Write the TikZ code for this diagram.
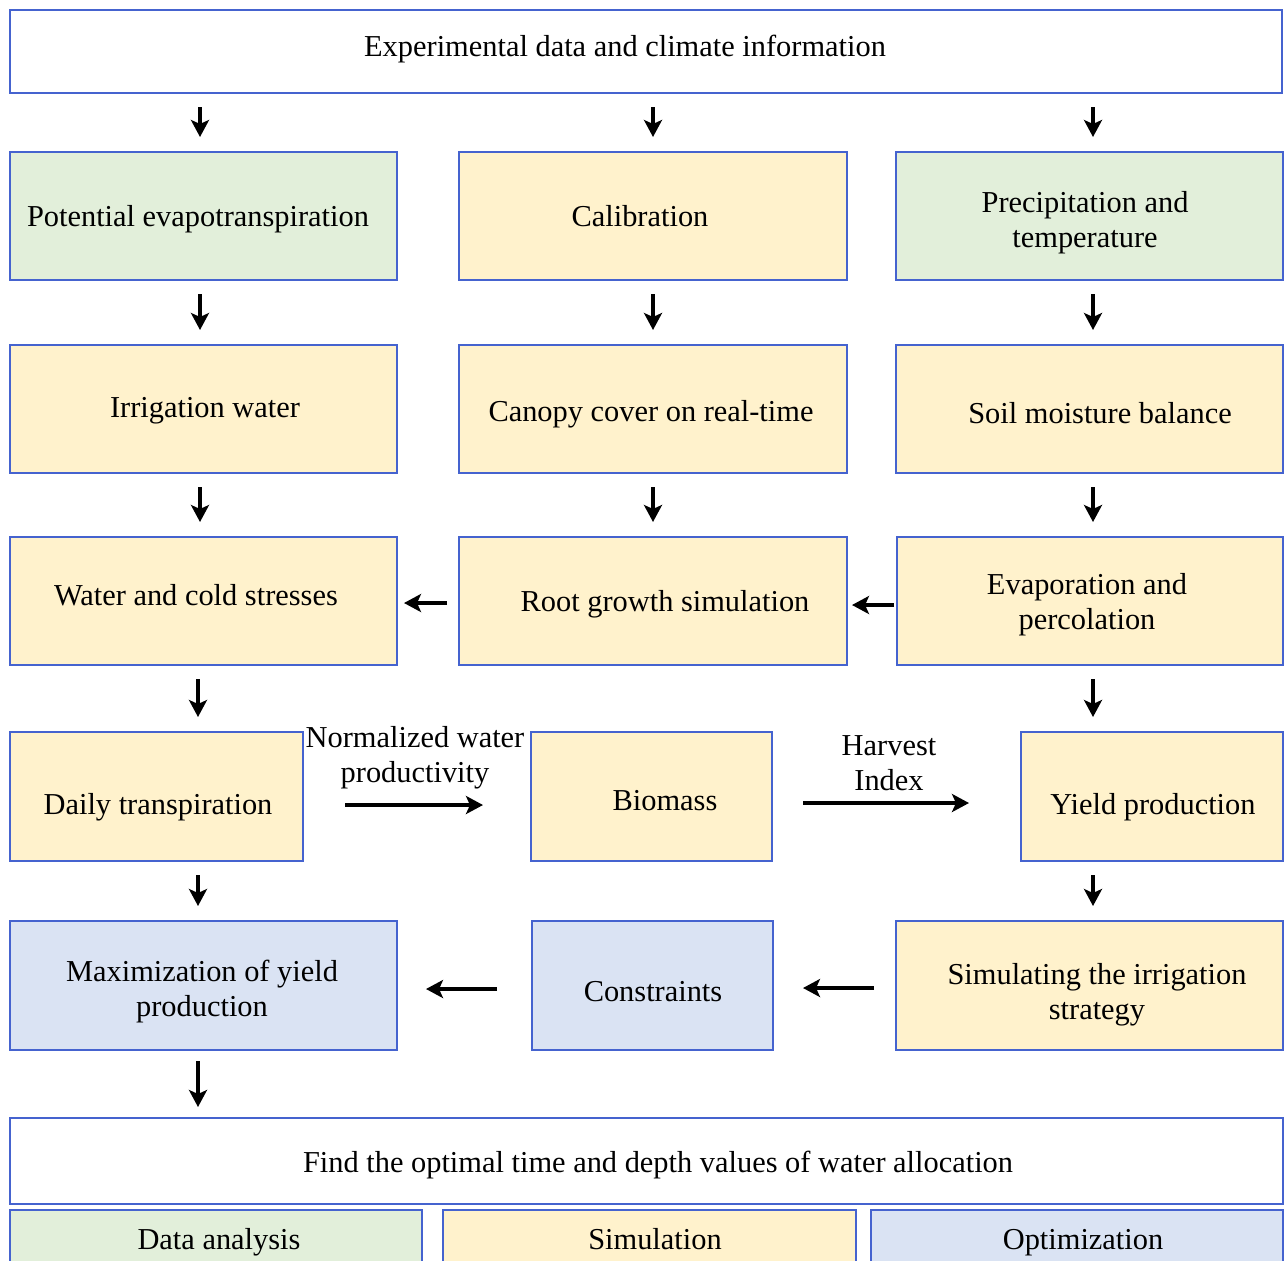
\documentclass[tikz,border=0pt]{standalone}
\usepackage{fontspec}
\setmainfont{Liberation Serif}
\usetikzlibrary{arrows.meta}
\definecolor{bgreen}{HTML}{E2EFDA}
\definecolor{byellow}{HTML}{FFF2CC}
\definecolor{bblue}{HTML}{DAE3F3}
\definecolor{bline}{HTML}{4563CF}
\tikzset{
  box/.style={draw=bline, line width=1pt, rectangle, inner sep=0pt},
  gbox/.style={box, fill=bgreen},
  ybox/.style={box, fill=byellow},
  bbox/.style={box, fill=bblue},
  wbox/.style={box, fill=white},
  lbl/.style={align=center, inner sep=0pt, font=\fontsize{15.2}{17.5}\selectfont},
  arr/.style={-{Stealth[length=8.5pt,width=9pt,inset=2pt]}, line width=2pt, black},
  arrv/.style={arr, line width=2.4pt, shorten <=6.5pt, shorten >=7pt},
}
% style, name, x1, y1, x2, y2, text, text-centre x, text-centre y (px)
\newcommand\bx[9]{%
  \node[#1, minimum width={(#5-#3)*0.5pt}, minimum height={(#6-#4)*0.5pt},
    label={[lbl, xshift={(#8-(#3+#5)/2)*0.5pt}, yshift={-(#9-(#4+#6)/2)*0.5pt}]center:{\strut#7\strut}}]
    (#2) at ({(#3+#5)/2},{(#4+#6)/2}) {};}
\begin{document}
\begin{tikzpicture}[x=0.5pt,y=-0.5pt]
\fill[white] (0,0) rectangle (1284,1260);
\clip (0,0) rectangle (1284,1260);
\coordinate (c1) at (200,0);
\coordinate (c1b) at (198,0);
\coordinate (c2) at (653,0);
\coordinate (c3) at (1093,0);
% boxes
\bx{wbox}{top}{10}{10}{1282}{93}{Experimental data and climate information}{625}{49}
\bx{gbox}{pe}{10}{152}{397}{280}{Potential evapotranspiration}{198}{219}
\bx{ybox}{cal}{459}{152}{847}{280}{Calibration}{640}{219}
\bx{gbox}{pt}{896}{152}{1283}{280}{Precipitation and\\temperature}{1085}{223}
\bx{ybox}{iw}{10}{345}{397}{473}{Irrigation water}{205}{410}
\bx{ybox}{cc}{459}{345}{847}{473}{Canopy cover on real-time}{651}{414}
\bx{ybox}{sm}{896}{345}{1283}{473}{Soil moisture balance}{1100}{416}
\bx{ybox}{wc}{10}{537}{397}{665}{Water and cold stresses}{196}{598}
\bx{ybox}{rg}{459}{537}{847}{665}{Root growth simulation}{665}{604}
\bx{ybox}{ep}{897}{537}{1283}{665}{Evaporation and\\percolation}{1087}{605}
\bx{ybox}{dt}{10}{732}{303}{861}{Daily transpiration}{158}{807}
\bx{ybox}{bm}{531}{732}{772}{861}{Biomass}{665}{803}
\bx{ybox}{yp}{1021}{732}{1283}{861}{Yield production}{1153}{807}
\bx{bbox}{mx}{10}{921}{397}{1050}{Maximization of yield\\production}{202}{992}
\bx{bbox}{cn}{532}{921}{773}{1050}{Constraints}{653}{994}
\bx{ybox}{si}{896}{921}{1283}{1050}{Simulating the irrigation\\strategy}{1097}{995}
\bx{wbox}{fo}{10}{1118}{1283}{1204}{Find the optimal time and depth values of water allocation}{658}{1165}
\bx{gbox}{la}{10}{1210}{422}{1272}{Data analysis}{219}{1242}
\bx{ybox}{lb}{443}{1210}{856}{1272}{Simulation}{655}{1242}
\bx{bbox}{lc}{871}{1210}{1283}{1272}{Optimization}{1083}{1242}
% labels
\node[lbl] (nwp) at (415,758) {Normalized water\\productivity};
\node[lbl] (hi) at (889,763) {Harvest\\Index};
% vertical arrows
\draw[arrv] (top.south -| c1) -- (pe.north -| c1);
\draw[arrv] (top.south -| c2) -- (cal.north -| c2);
\draw[arrv] (top.south -| c3) -- (pt.north -| c3);
\draw[arrv] (pe.south -| c1) -- (iw.north -| c1);
\draw[arrv] (cal.south -| c2) -- (cc.north -| c2);
\draw[arrv] (pt.south -| c3) -- (sm.north -| c3);
\draw[arrv] (iw.south -| c1) -- (wc.north -| c1);
\draw[arrv] (cc.south -| c2) -- (rg.north -| c2);
\draw[arrv] (sm.south -| c3) -- (ep.north -| c3);
\draw[arrv] (wc.south -| c1b) -- (dt.north -| c1b);
\draw[arrv] (ep.south -| c3) -- (yp.north -| c3);
\draw[arrv] (dt.south -| c1b) -- (mx.north -| c1b);
\draw[arrv] (yp.south -| c3) -- (si.north -| c3);
\draw[arrv, shorten <=5pt, shorten >=5pt] (mx.south -| c1b) -- (fo.north -| c1b);
% horizontal arrows
\draw[arr, shorten <=5.5pt, shorten >=3pt] ([yshift=-1pt]rg.west) -- ([yshift=-1pt]wc.east);
\draw[arr, shorten <=1pt, shorten >=2pt] ([yshift=-2pt]ep.west) -- ([yshift=-2pt]rg.east);
\draw[arr, shorten <=20.5pt, shorten >=23.5pt] ([yshift=-4.25pt]dt.east) -- ([yshift=-4.25pt]bm.west);
\draw[arr, shorten <=15pt, shorten >=25.5pt] ([yshift=-3.25pt]bm.east) -- ([yshift=-3.25pt]yp.west);
\draw[arr, shorten <=17pt, shorten >=14pt] ([yshift=-1.75pt]cn.west) -- ([yshift=-1.75pt]mx.east);
\draw[arr, shorten <=10.5pt, shorten >=14.5pt] ([yshift=-1.25pt]si.west) -- ([yshift=-1.25pt]cn.east);
\end{tikzpicture}
\end{document}
